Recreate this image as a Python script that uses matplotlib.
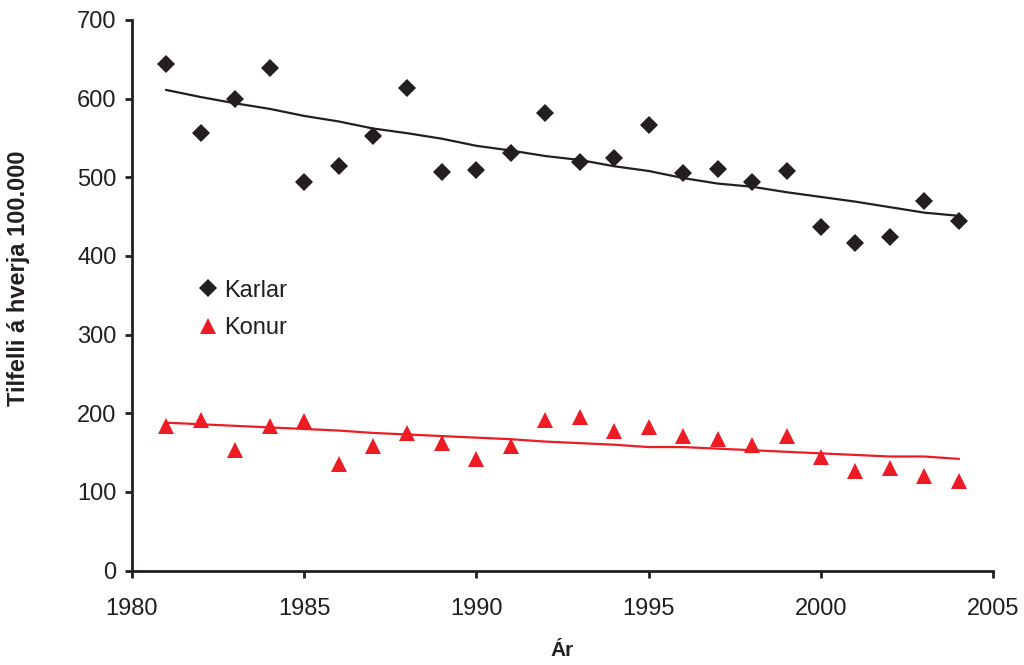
# Tilfelli karla og kvenna á hverja 100.000, 1981-2004, með leitnilínum

import matplotlib.pyplot as plt

plt.rcParams['font.family'] = ['Liberation Sans', 'DejaVu Sans']

years = list(range(1981, 2005))

karlar = [644, 556, 600, 639, 494, 514, 553, 613, 507, 509, 531, 582,
          520, 525, 567, 505, 510, 494, 508, 437, 417, 424, 470, 445]
konur = [184, 191, 153, 184, 190, 136, 158, 175, 162, 142, 159, 191,
         195, 177, 182, 171, 167, 160, 171, 144, 127, 131, 120, 114]

# leitnilínur
karlar_trend = [611, 602, 594, 587, 578, 571, 562, 556, 549, 540, 534, 527,
                522, 514, 508, 499, 492, 488, 481, 475, 469, 462, 455, 451]
konur_trend = [188, 186, 184, 182, 180, 178, 175, 173, 171, 169, 167, 164,
               162, 160, 157, 157, 155, 153, 151, 149, 147, 145, 145, 142]

black = '#231f20'
red = '#ed1c24'

fig = plt.figure(figsize=(10.24, 6.65), dpi=100)
ax = fig.add_axes([0.1287, 0.142, 0.8413, 0.828])

ax.plot(years, karlar_trend, color=black, lw=1.6, zorder=2)
ax.plot(years, konur_trend, color=red, lw=1.6, zorder=2)
ax.plot(years, karlar, 'D', color=black, ms=9.2, mew=0, label='Karlar', zorder=3)
ax.plot(years, konur, '^', color=red, ms=11, mew=0, label='Konur', zorder=3)

ax.set_xlim(1980, 2005)
ax.set_ylim(0, 700)
ax.set_xticks(range(1980, 2006, 5))
ax.set_yticks(range(0, 701, 100))

for side in ['top', 'right']:
    ax.spines[side].set_visible(False)
for side in ['left', 'bottom']:
    ax.spines[side].set_linewidth(2)
    ax.spines[side].set_color(black)
ax.tick_params(direction='out', length=5, width=2, color=black,
               labelsize=17, labelcolor=black)
ax.tick_params(axis='x', pad=15)
ax.tick_params(axis='y', pad=6)

ax.set_xlabel('Ár', fontsize=15, fontweight='bold', color=black, labelpad=15)
ax.set_ylabel('Tilfelli á hverja 100.000', fontsize=17, fontweight='bold',
              color=black)
ax.yaxis.set_label_coords(-0.118, 0.531)

ax.legend(loc='upper left', bbox_to_anchor=(0.066, 0.55), frameon=False,
          fontsize=17, handlelength=0.6, handletextpad=0.4, labelspacing=0.65,
          borderpad=0, labelcolor=black)

plt.savefig('out.png', dpi=100)
